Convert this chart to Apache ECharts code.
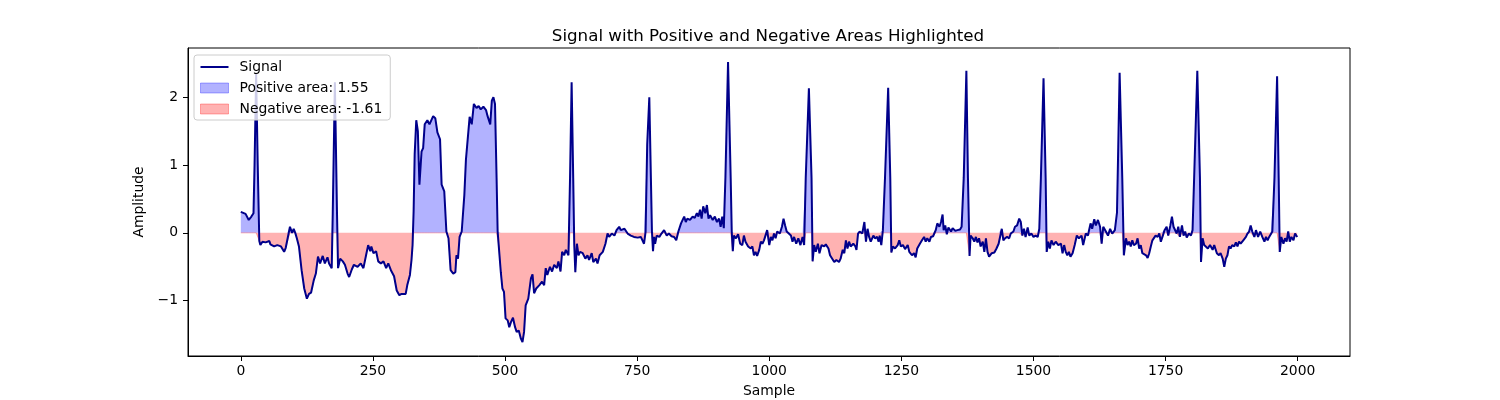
<!DOCTYPE html>
<html>
<head>
<meta charset="utf-8">
<script src="https://cdn.jsdelivr.net/npm/echarts@6.0.0/dist/echarts.min.js"></script>
<style>
html, body { margin: 0; padding: 0; background: #fff; }
#chart { width: 1500px; height: 400px; }
</style>
</head>
<body>
<div id="chart"></div>
<script>
// sample index of each point
var sampleIdx = [
  0, 9, 15, 20, 24, 26, 29, 32, 35, 37,
  41, 47, 54, 56, 63, 69, 76, 82, 85, 88,
  93, 97, 100, 103, 106, 110, 115, 120, 125, 129,
  133, 138, 142, 146, 150, 155, 159, 164, 167, 172,
  174, 178, 182, 184, 188, 193, 197, 202, 205, 210,
  214, 221, 227, 232, 237, 241, 245, 247, 251, 256,
  260, 265, 270, 275, 279, 284, 290, 295, 300, 304,
  312, 315, 320, 323, 325, 327, 329, 332, 335, 338,
  342, 345, 348, 353, 357, 360, 364, 368, 372, 377,
  380, 385, 389, 393, 397, 402, 406, 408, 411, 414,
  418, 423, 426, 429, 433, 437, 441, 446, 450, 454,
  459, 464, 467, 472, 475, 478, 481, 484, 486, 488,
  492, 495, 498, 501, 505, 508, 511, 515, 519, 522,
  526, 530, 533, 536, 539, 544, 549, 552, 555, 559,
  565, 570, 574, 577, 580, 585, 589, 593, 598, 601,
  605, 608, 612, 615, 620, 623, 626, 629, 631, 633,
  636, 639, 642, 647, 652, 656, 659, 664, 667, 672,
  675, 679, 685, 690, 694, 697, 702, 707, 711, 716,
  719, 726, 732, 738, 744, 751, 757, 760, 763, 766,
  769, 773, 776, 778, 780, 782, 784, 787, 792, 796,
  801, 806, 810, 815, 820, 824, 828, 833, 836, 839,
  842, 845, 850, 855, 859, 863, 866, 869, 872, 875,
  879, 882, 885, 888, 893, 897, 901, 905, 908, 911,
  914, 917, 922, 927, 929, 931, 933, 937, 941, 945,
  949, 952, 955, 960, 965, 968, 971, 974, 977, 981,
  984, 987, 990, 993, 996, 1000, 1003, 1006, 1009, 1012,
  1015, 1020, 1024, 1027, 1030, 1033, 1036, 1041, 1044, 1047,
  1051, 1055, 1059, 1063, 1066, 1069, 1075, 1080, 1082, 1085,
  1088, 1092, 1095, 1099, 1104, 1107, 1112, 1115, 1118, 1123,
  1127, 1132, 1135, 1139, 1142, 1145, 1148, 1151, 1154, 1159,
  1163, 1165, 1168, 1171, 1176, 1180, 1183, 1186, 1189, 1192,
  1197, 1200, 1204, 1207, 1209, 1212, 1215, 1219, 1225, 1229,
  1231, 1234, 1238, 1243, 1246, 1249, 1253, 1257, 1262, 1265,
  1270, 1274, 1277, 1280, 1285, 1289, 1293, 1296, 1299, 1303,
  1306, 1310, 1315, 1318, 1322, 1325, 1328, 1330, 1333, 1336,
  1339, 1344, 1347, 1352, 1356, 1361, 1364, 1368, 1373, 1376,
  1379, 1381, 1385, 1388, 1391, 1394, 1397, 1400, 1404, 1407,
  1410, 1413, 1416, 1421, 1426, 1430, 1434, 1437, 1440, 1443,
  1446, 1450, 1454, 1457, 1462, 1465, 1469, 1473, 1476, 1479,
  1482, 1485, 1489, 1492, 1496, 1500, 1504, 1508, 1511, 1514,
  1519, 1523, 1525, 1528, 1531, 1534, 1538, 1542, 1547, 1552,
  1555, 1558, 1561, 1564, 1567, 1570, 1574, 1578, 1582, 1586,
  1591, 1594, 1599, 1603, 1608, 1611, 1615, 1618, 1622, 1626,
  1629, 1632, 1637, 1641, 1645, 1649, 1654, 1658, 1660, 1663,
  1668, 1671, 1675, 1678, 1681, 1684, 1687, 1690, 1694, 1697,
  1700, 1703, 1706, 1709, 1713, 1716, 1719, 1722, 1725, 1728,
  1731, 1735, 1738, 1741, 1744, 1748, 1752, 1755, 1759, 1762,
  1765, 1768, 1771, 1774, 1777, 1781, 1784, 1787, 1790, 1794,
  1798, 1801, 1804, 1810, 1815, 1817, 1820, 1823, 1826, 1830,
  1834, 1839, 1842, 1847, 1851, 1854, 1858, 1861, 1864, 1867,
  1870, 1873, 1876, 1880, 1883, 1886, 1889, 1892, 1897, 1902,
  1905, 1908, 1911, 1914, 1918, 1921, 1925, 1929, 1933, 1937,
  1940, 1943, 1946, 1949, 1952, 1956, 1961, 1964, 1966, 1969,
  1973, 1976, 1979, 1982, 1985, 1988, 1992, 1995, 1999
];

// amplitude at each of those samples
var amplitude = [
  0.31, 0.28, 0.19, 0.24, 0.29, 1.0, 2.34, 1.0, -0.12, -0.18,
  -0.13, -0.14, -0.12, -0.17, -0.2, -0.18, -0.2, -0.28, -0.22, -0.21,
  0.09, 0.0, 0.06, 0.0, -0.08, -0.2, -0.55, -0.82, -0.97, -0.9,
  -0.88, -0.7, -0.6, -0.35, -0.45, -0.34, -0.45, -0.36, -0.45, -0.52,
  0.3, 2.22, 0.3, -0.52, -0.38, -0.42, -0.47, -0.6, -0.65, -0.54,
  -0.47, -0.5, -0.45, -0.52, -0.33, -0.18, -0.27, -0.2, -0.3, -0.27,
  -0.42, -0.45, -0.42, -0.52, -0.45, -0.55, -0.64, -0.85, -0.92, -0.9,
  -0.9, -0.77, -0.62, -0.4, -0.18, 0.32, 1.16, 1.66, 1.5, 0.71,
  1.2, 1.25, 1.6, 1.66, 1.6, 1.58, 1.72, 1.69, 1.48, 1.38,
  0.71, 0.61, 0.02, -0.08, -0.55, -0.6, -0.58, -0.33, -0.38, -0.06,
  0.02, 0.56, 1.08, 1.1, 1.71, 1.6, 1.9, 1.84, 1.87, 1.82,
  1.86, 1.81, 1.72, 1.6, 1.95, 2.0, 1.9, 0.81, 0.02, -0.18,
  -0.58, -0.82, -0.87, -1.26, -1.29, -1.39, -1.32, -1.25, -1.39, -1.46,
  -1.44, -1.56, -1.61, -1.46, -1.07, -0.97, -0.67, -0.61, -0.89, -0.82,
  -0.77, -0.72, -0.77, -0.52, -0.62, -0.5, -0.57, -0.47, -0.52, -0.42,
  -0.57, -0.28, -0.33, -0.25, -0.33, 0.81, 2.22, 0.81, -0.18, -0.58,
  -0.16, -0.33, -0.28, -0.3, -0.38, -0.33, -0.4, -0.3, -0.43, -0.38,
  -0.45, -0.33, -0.28, -0.16, -0.01, -0.06, -0.01, -0.04, 0.04, 0.09,
  0.04, 0.06, -0.01, -0.04, -0.06, -0.07, -0.06, -0.08, -0.16, 0.02,
  1.3, 2.0, 0.81, 0.02, -0.27, -0.06, -0.16, -0.04, -0.06, -0.01,
  0.04, -0.04, -0.01, -0.05, -0.06, -0.11, 0.02, 0.14, 0.16, 0.24,
  0.16, 0.21, 0.19, 0.24, 0.22, 0.29, 0.24, 0.34, 0.21, 0.39,
  0.29, 0.41, 0.21, 0.26, 0.19, 0.24, 0.16, 0.21, 0.09, 0.24,
  0.07, 0.81, 2.52, 0.81, 0.02, -0.27, -0.04, -0.08, -0.02, -0.16,
  -0.18, -0.04, -0.13, -0.2, -0.23, -0.2, -0.33, -0.28, -0.34, -0.25,
  -0.13, -0.16, -0.11, -0.13, 0.04, -0.18, -0.06, -0.11, -0.01, -0.08,
  0.02, -0.01, 0.09, 0.21, 0.11, 0.02, 0.04, -0.04, -0.13, -0.06,
  -0.16, -0.08, -0.18, -0.06, -0.18, 0.81, 2.13, 0.81, -0.42, -0.18,
  -0.28, -0.16, -0.3, -0.18, -0.2, -0.17, -0.23, -0.33, -0.35, -0.43,
  -0.4, -0.43, -0.38, -0.25, -0.3, -0.11, -0.23, -0.13, -0.2, -0.16,
  -0.2, -0.25, -0.01, 0.02, -0.01, 0.16, -0.13, 0.06, -0.06, -0.13,
  -0.04, -0.08, -0.06, -0.13, -0.04, -0.18, 0.04, 0.81, 2.14, 0.81,
  -0.29, -0.2, -0.23, -0.18, -0.11, -0.2, -0.18, -0.24, -0.18, -0.28,
  -0.33, -0.3, -0.36, -0.23, -0.16, -0.11, -0.06, -0.13, -0.08, -0.13,
  -0.06, -0.05, 0.04, 0.14, 0.09, 0.16, 0.27, 0.04, 0.11, -0.02,
  0.08, 0.02, 0.07, 0.03, 0.04, 0.05, 0.09, 0.81, 2.39, 0.81,
  -0.34, -0.04, -0.08, -0.13, -0.06, -0.14, -0.08, -0.2, -0.13, -0.28,
  -0.08, -0.28, -0.35, -0.3, -0.29, -0.23, -0.16, -0.16, 0.06, -0.11,
  -0.08, -0.06, -0.08, -0.01, 0.02, 0.09, 0.11, 0.21, 0.16, -0.04,
  0.06, -0.06, 0.08, -0.04, -0.01, -0.06, -0.04, -0.06, 0.06, 0.81,
  2.28, 0.81, -0.28, -0.13, -0.23, -0.11, -0.18, -0.13, -0.18, -0.16,
  -0.3, -0.18, -0.28, -0.33, -0.28, -0.35, -0.3, -0.18, -0.04, -0.08,
  -0.04, -0.18, -0.01, -0.04, 0.14, 0.06, 0.2, 0.11, 0.19, 0.09,
  -0.16, 0.09, 0.02, -0.04, 0.06, -0.01, 0.04, 0.3, 1.1, 2.36,
  0.81, -0.33, -0.08, -0.18, -0.13, -0.2, -0.11, -0.18, -0.16, -0.08,
  -0.23, -0.18, -0.3, -0.28, -0.33, -0.37, -0.3, -0.2, -0.11, -0.13,
  -0.04, -0.06, -0.01, -0.13, -0.06, 0.04, 0.09, -0.04, 0.11, 0.24,
  0.09, 0.11, -0.01, 0.09, -0.06, 0.11, -0.04, 0.02, -0.07, -0.01,
  -0.04, 0.04, 0.81, 2.39, 0.81, -0.43, -0.08, -0.18, -0.16, -0.23,
  -0.18, -0.25, -0.18, -0.3, -0.33, -0.3, -0.38, -0.5, -0.38, -0.33,
  -0.2, -0.23, -0.18, -0.2, -0.14, -0.2, -0.13, -0.16, -0.11, -0.06,
  -0.01, 0.02, 0.11, 0.02, -0.06, 0.04, -0.06, 0.02, -0.06, -0.13,
  -0.06, -0.11, -0.06, -0.07, 0.02, 0.81, 2.31, 0.81, -0.28, -0.06,
  -0.16, -0.08, -0.13, 0.02, -0.13, -0.06, -0.11, -0.01, -0.06
];

var xTicks = [0, 250, 500, 750, 1000, 1250, 1500, 1750, 2000];
var yTicks = [-1, 0, 1, 2];

var positiveArea = 1.55;
var negativeArea = -1.61;

var FONT = 'DejaVu Sans';

var chart = echarts.init(document.getElementById('chart'));

var signalData = sampleIdx.map(function (s, i) { return [s, amplitude[i]]; });
var posData = sampleIdx.map(function (s, i) { return [s, amplitude[i] > 0 ? amplitude[i] : 0]; });
var negData = sampleIdx.map(function (s, i) { return [s, amplitude[i] < 0 ? amplitude[i] : 0]; });

var posName = 'Positive area: ' + positiveArea.toFixed(2);
var negName = 'Negative area: ' + negativeArea.toFixed(2);

// matplotlib uses a real minus sign on ticks
function tickText(v) {
  return String(v).replace('-', '\u2212');
}

var option = {
  animation: false,
  textStyle: { fontFamily: FONT },
  title: {
    text: 'Signal with Positive and Negative Areas Highlighted',
    left: 763,
    top: 23,
    textAlign: 'center',
    textStyle: { fontSize: 16.7, fontWeight: 'normal', color: '#000', fontFamily: FONT }
  },
  grid: {
    left: 188, right: 150, top: 48, bottom: 44,
    outerBoundsMode: 'none',
    show: true, borderColor: '#000', borderWidth: 1, backgroundColor: 'rgba(0,0,0,0)'
  },
  legend: {
    orient: 'vertical',
    left: 194, top: 55,
    padding: [5, 8, 4, 6],
    itemWidth: 28, itemHeight: 10, itemGap: 7,
    backgroundColor: 'rgba(255,255,255,0.8)',
    borderColor: '#cccccc', borderWidth: 1, borderRadius: 3,
    textStyle: { fontSize: 13.9, color: '#000', fontFamily: FONT, padding: [0, 0, 0, 6] },
    data: [
      { name: 'Signal', icon: 'path://M0,0H28V2H0Z',
        itemStyle: { color: '#00008b' } },
      { name: posName, icon: 'rect',
        itemStyle: { color: 'rgba(0,0,255,0.3)', borderColor: 'rgba(0,0,255,0.3)', borderWidth: 1 } },
      { name: negName, icon: 'rect',
        itemStyle: { color: 'rgba(255,0,0,0.3)', borderColor: 'rgba(255,0,0,0.3)', borderWidth: 1 } }
    ]
  },
  xAxis: {
    type: 'value',
    min: -99.95, max: 2098.95,
    name: 'Sample', nameLocation: 'middle', nameGap: 28,
    nameTextStyle: { fontSize: 13.9, color: '#000', fontFamily: FONT },
    axisLine: { onZero: false, lineStyle: { color: '#000', width: 1 } },
    axisTick: { show: true, length: 5, lineStyle: { color: '#000', width: 1 }, customValues: xTicks },
    axisLabel: { customValues: xTicks, margin: 8, fontSize: 13.9, color: '#000', formatter: tickText },
    splitLine: { show: false }
  },
  yAxis: {
    type: 'value',
    min: -1.815, max: 2.725,
    name: 'Amplitude', nameLocation: 'middle', nameGap: 34,
    nameTextStyle: { fontSize: 13.9, color: '#000', fontFamily: FONT },
    axisLine: { onZero: false, lineStyle: { color: '#000', width: 1 } },
    axisTick: { show: true, length: 5, lineStyle: { color: '#000', width: 1 }, customValues: yTicks },
    axisLabel: { customValues: yTicks, margin: 10, fontSize: 13.9, color: '#000', formatter: tickText },
    splitLine: { show: false }
  },
  series: [
    {
      name: posName,
      type: 'line',
      data: posData,
      color: 'rgba(0,0,255,0.3)',
      symbol: 'none',
      lineStyle: { width: 0, opacity: 0 },
      areaStyle: { color: 'rgba(0,0,255,0.3)', opacity: 1, origin: 'auto' },
      z: 1
    },
    {
      name: negName,
      type: 'line',
      data: negData,
      color: 'rgba(255,0,0,0.3)',
      symbol: 'none',
      lineStyle: { width: 1, color: 'rgba(255,0,0,0.3)' },
      areaStyle: { color: 'rgba(255,0,0,0.3)', opacity: 1, origin: 'auto' },
      z: 1
    },
    {
      name: 'Signal',
      type: 'line',
      data: signalData,
      color: '#00008b',
      symbol: 'none',
      lineStyle: { width: 2, color: '#00008b' },
      z: 3
    }
  ]
};

chart.clear();
chart.setOption(option);
</script>
</body>
</html>
